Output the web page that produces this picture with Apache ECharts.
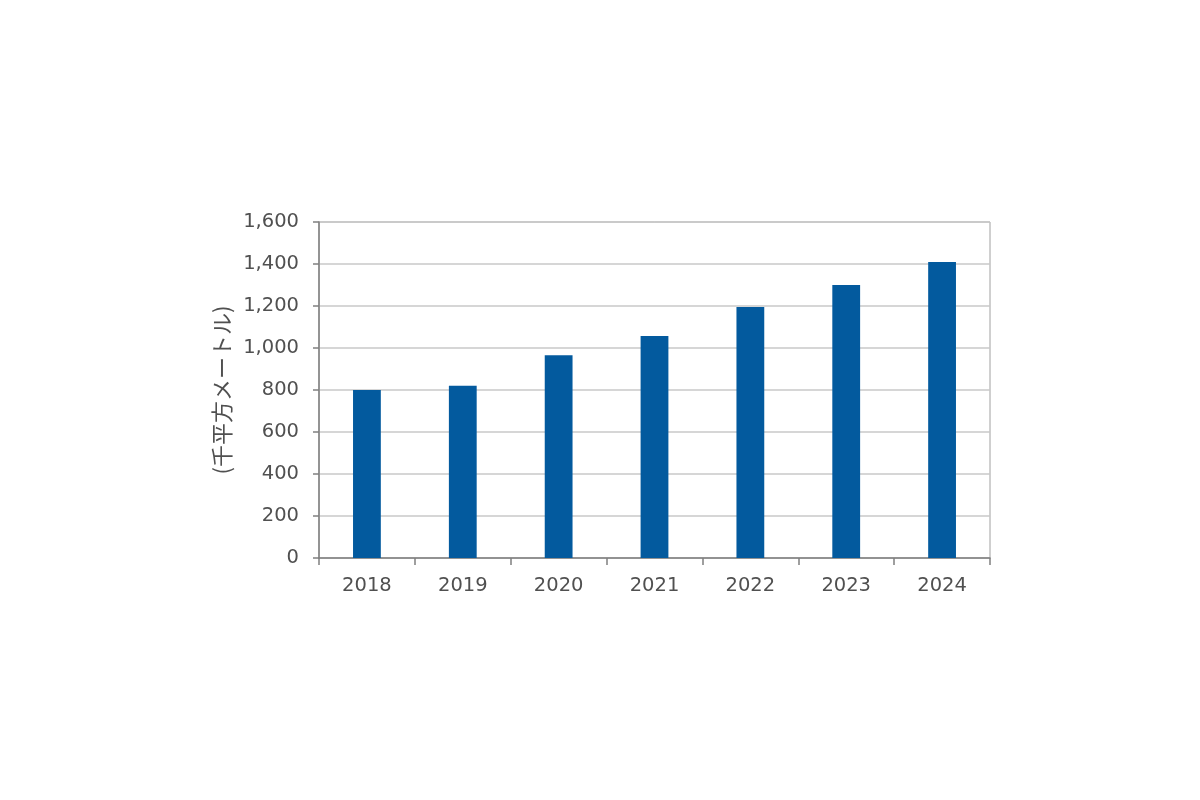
<!DOCTYPE html>
<html><head><meta charset="utf-8">
<script src="https://cdn.jsdelivr.net/npm/echarts@6/dist/echarts.min.js"></script>
<style>html,body{margin:0;padding:0;background:#fff}#c{width:1200px;height:800px}</style>
</head><body><div id="c"></div>
<script>
const categories = ['2018','2019','2020','2021','2022','2023','2024'];
const values = [800, 820, 965, 1057, 1195, 1300, 1410];
const yAxisName = '(千平方メートル)';

const chart = echarts.init(document.getElementById('c'));
chart.setOption({
  animation: false,
  grid: { left: 319, right: 210, top: 222, bottom: 242, show: true, borderColor: '#a0a0a0', borderWidth: 1, containLabel: false },
  xAxis: {
    type: 'category', data: categories,
    axisLine: { lineStyle: { color: '#808080', width: 1.5 } },
    axisTick: { show: true, length: 7, alignWithLabel: false, lineStyle: { color: '#808080', width: 1.5 } },
    axisLabel: { color: '#505050', fontSize: 19.5, margin: 18, fontFamily: 'DejaVu Sans' }
  },
  yAxis: {
    type: 'value', min: 0, max: 1600, interval: 200,
    name: yAxisName, nameLocation: 'middle', nameGap: 80, nameRotate: 90,
    nameTextStyle: { color: '#505050', fontSize: 22, fontFamily: 'Noto Sans CJK JP' },
    axisLine: { show: true, lineStyle: { color: '#808080', width: 1.5 } },
    axisTick: { show: true, length: 6, lineStyle: { color: '#808080', width: 1.5 } },
    axisLabel: { color: '#505050', fontSize: 19.5, margin: 20, fontFamily: 'DejaVu Sans',
      formatter: v => v.toLocaleString('en-US') },
    splitLine: { lineStyle: { color: '#c8c8c8', width: 1.5 } }
  },
  series: [{
    type: 'bar', data: values, barWidth: '29%',
    itemStyle: { color: '#035a9e' }
  }]
});
</script></body></html>
